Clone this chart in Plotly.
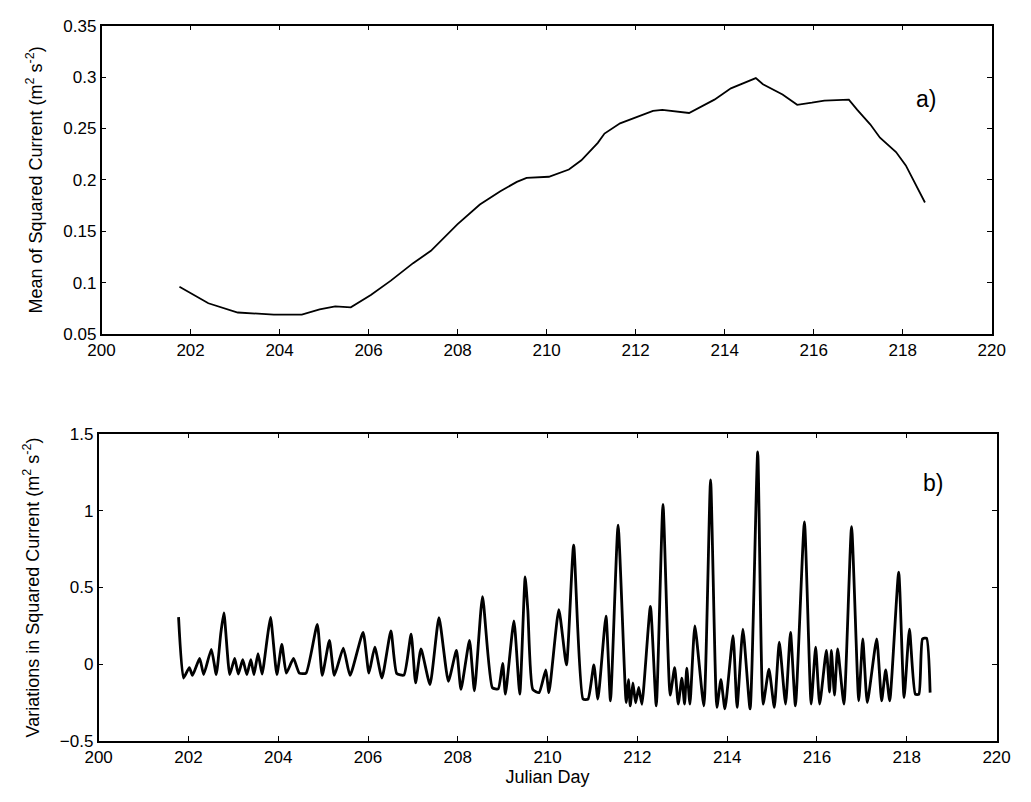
import plotly.graph_objects as go

# (a) Mean of squared current
mean_day = [201.75, 202.4, 203.06, 203.87, 204.5, 204.9, 205.25, 205.6, 206.05, 206.5,
            207.0, 207.4, 208.0, 208.5, 208.96, 209.33, 209.55, 210.05, 210.5, 210.78,
            211.15, 211.3, 211.65, 212.17, 212.39, 212.6, 213.2, 213.77, 214.14, 214.7,
            214.86, 215.3, 215.63, 215.96, 216.24, 216.79, 216.98, 217.27, 217.49, 217.85,
            218.07, 218.5]
mean_val = [0.096, 0.080, 0.071, 0.069, 0.069, 0.074, 0.077, 0.076, 0.088, 0.102,
            0.119, 0.131, 0.157, 0.176, 0.189, 0.198, 0.202, 0.203, 0.210, 0.219,
            0.236, 0.245, 0.255, 0.263, 0.267, 0.268, 0.265, 0.278, 0.289, 0.299,
            0.293, 0.283, 0.273, 0.275, 0.277, 0.278, 0.268, 0.254, 0.241, 0.227,
            0.214, 0.178]

# (b) Variations in squared current
var_day = [201.78, 201.89, 202.02, 202.09, 202.25, 202.34, 202.51, 202.62, 202.72, 202.79,
           202.92, 203.03, 203.11, 203.21, 203.30, 203.39, 203.46, 203.55, 203.64, 203.76,
           203.83, 203.97, 204.08, 204.18, 204.34, 204.47, 204.62, 204.87, 204.98, 205.14,
           205.25, 205.45, 205.60, 205.89, 206.02, 206.15, 206.31, 206.51, 206.64, 206.80,
           206.96, 207.06, 207.18, 207.38, 207.58, 207.79, 207.97, 208.07, 208.26, 208.37,
           208.55, 208.77, 208.90, 209.00, 209.06, 209.25, 209.38, 209.50, 209.56, 209.67,
           209.81, 209.96, 210.03, 210.25, 210.42, 210.58, 210.79, 210.90, 211.03, 211.12,
           211.30, 211.40, 211.57, 211.75, 211.80, 211.84, 211.90, 211.96, 212.03, 212.10,
           212.29, 212.42, 212.57, 212.73, 212.83, 212.91, 212.99, 213.05, 213.10, 213.17,
           213.28, 213.48, 213.63, 213.77, 213.86, 213.95, 214.13, 214.22, 214.35, 214.51,
           214.68, 214.80, 214.93, 215.05, 215.16, 215.30, 215.41, 215.52, 215.72, 215.87,
           215.97, 216.06, 216.21, 216.28, 216.32, 216.39, 216.46, 216.60, 216.77, 216.93,
           217.02, 217.12, 217.33, 217.44, 217.53, 217.62, 217.82, 217.94, 218.06, 218.19,
           218.27, 218.35, 218.44, 218.52]
var_val = [0.307, -0.089, -0.021, -0.072, 0.038, -0.066, 0.098, -0.066, 0.200, 0.335,
           -0.066, 0.038, -0.063, 0.030, -0.066, 0.030, -0.066, 0.070, -0.063, 0.180,
           0.305, -0.066, 0.130, -0.057, 0.038, -0.057, -0.057, 0.260, -0.072, 0.155,
           -0.072, 0.106, -0.072, 0.208, -0.057, 0.112, -0.089, 0.218, -0.060, -0.070,
           0.197, -0.120, 0.100, -0.131, 0.303, -0.110, 0.091, -0.163, 0.155, -0.173,
           0.440, -0.152, -0.160, 0.006, -0.194, 0.282, -0.194, 0.568, 0.350, -0.163,
           -0.184, -0.036, -0.184, 0.356, -0.004, 0.775, -0.226, -0.226, -0.004, -0.226,
           0.314, -0.237, 0.906, -0.248, -0.100, -0.270, -0.120, -0.250, -0.150, -0.260,
           0.377, -0.270, 1.040, -0.200, -0.021, -0.258, -0.089, -0.258, -0.025, -0.258,
           0.250, -0.270, 1.200, -0.280, -0.100, -0.290, 0.187, -0.280, 0.229, -0.290,
           1.382, -0.258, -0.032, -0.280, 0.144, -0.258, 0.208, -0.270, 0.927, -0.258,
           0.112, -0.258, 0.091, -0.180, 0.091, -0.200, 0.100, -0.258, 0.895, -0.237,
           0.165, -0.248, 0.165, -0.237, -0.036, -0.237, 0.600, -0.216, 0.229, -0.194,
           -0.194, 0.165, 0.170, -0.184]

x_ticks = [200, 202, 204, 206, 208, 210, 212, 214, 216, 218, 220]
x_labels = [str(v) for v in x_ticks]
mean_ticks = [0.05, 0.1, 0.15, 0.2, 0.25, 0.3, 0.35]
mean_labels = ["0.05", "0.1", "0.15", "0.2", "0.25", "0.3", "0.35"]
var_ticks = [-0.5, 0, 0.5, 1, 1.5]
var_labels = ["\u22120.5", "0", "0.5", "1", "1.5"]

W, H = 1031, 802
FONT = "Liberation Sans, Arial, Helvetica, sans-serif"

fig = go.Figure()
fig.add_trace(go.Scatter(x=mean_day, y=mean_val, mode="lines",
                         line=dict(color="black", width=1.8),
                         xaxis="x", yaxis="y", showlegend=False))
fig.add_trace(go.Scatter(x=var_day, y=var_val, mode="lines",
                         line=dict(color="black", width=2.8, shape="spline", smoothing=0.5),
                         xaxis="x2", yaxis="y2", showlegend=False))

axis_common = dict(showline=True, linecolor="black", linewidth=1.6, mirror="ticks",
                   ticks="inside", ticklen=5, tickwidth=1.4, tickcolor="black",
                   showgrid=False, zeroline=False,
                   tickfont=dict(family=FONT, size=17, color="black"))

fig.update_layout(
    width=W, height=H,
    margin=dict(l=0, r=0, t=0, b=0),
    paper_bgcolor="white", plot_bgcolor="white",
    xaxis=dict(domain=[90 / W, 1005 / W], range=[200, 220], anchor="y",
               tickvals=x_ticks, ticktext=x_labels, **axis_common),
    yaxis=dict(domain=[1 - 333 / H, 1 - 17 / H], range=[0.05, 0.35], anchor="x",
               tickvals=mean_ticks, ticktext=mean_labels,
               title=dict(text="Mean of Squared Current (m<sup>2</sup> s<sup>-2</sup>)",
                          font=dict(family=FONT, size=18, color="black"), standoff=16),
               **axis_common),
    xaxis2=dict(domain=[87 / W, 1010 / W], range=[200, 220], anchor="y2",
                tickvals=x_ticks, ticktext=x_labels,
                title=dict(text="Julian Day", font=dict(family=FONT, size=18, color="black"),
                           standoff=0),
                **axis_common),
    yaxis2=dict(domain=[1 - 750 / H, 1 - 435 / H], range=[-0.5, 1.5], anchor="x2",
                tickvals=var_ticks, ticktext=var_labels,
                title=dict(text="Variations in Squared Current (m<sup>2</sup> s<sup>-2</sup>)",
                           font=dict(family=FONT, size=18, color="black"), standoff=16),
                **axis_common),
    annotations=[
        dict(text="a)", x=950 / W, y=1 - 77 / H, xref="paper", yref="paper",
             showarrow=False, font=dict(family=FONT, size=23, color="black")),
        dict(text="b)", x=957 / W, y=1 - 485 / H, xref="paper", yref="paper",
             showarrow=False, font=dict(family=FONT, size=23, color="black")),
    ],
)

fig.write_html("out.html")
